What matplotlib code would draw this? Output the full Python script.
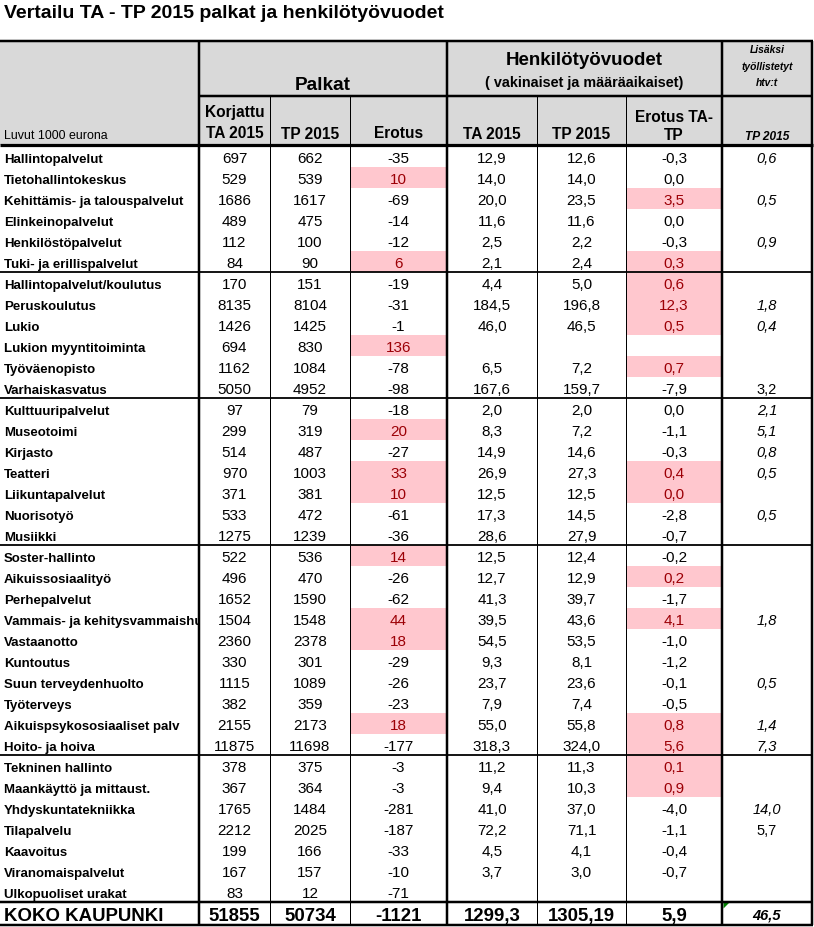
import matplotlib
matplotlib.use("Agg")
import matplotlib.pyplot as plt
from matplotlib.patches import Rectangle, Polygon
from matplotlib.transforms import Bbox

plt.rcParams['font.family'] = ['Liberation Sans', 'DejaVu Sans']

# ---------------- data ----------------
title = "Vertailu TA - TP 2015 palkat ja henkilötyövuodet"

labels = [
    "Hallintopalvelut", "Tietohallintokeskus", "Kehittämis- ja talouspalvelut",
    "Elinkeinopalvelut", "Henkilöstöpalvelut", "Tuki- ja erillispalvelut",
    "Hallintopalvelut/koulutus", "Peruskoulutus", "Lukio", "Lukion myyntitoiminta",
    "Työväenopisto", "Varhaiskasvatus",
    "Kulttuuripalvelut", "Museotoimi", "Kirjasto", "Teatteri", "Liikuntapalvelut",
    "Nuorisotyö", "Musiikki",
    "Soster-hallinto", "Aikuissosiaalityö", "Perhepalvelut",
    "Vammais- ja kehitysvammaishuolto", "Vastaanotto", "Kuntoutus",
    "Suun terveydenhuolto", "Työterveys", "Aikuispsykososiaaliset palv",
    "Hoito- ja hoiva",
    "Tekninen hallinto", "Maankäyttö ja mittaust.", "Yhdyskuntatekniikka",
    "Tilapalvelu", "Kaavoitus", "Viranomaispalvelut", "Ulkopuoliset urakat",
]

palkat_ta = [697, 529, 1686, 489, 112, 84, 170, 8135, 1426, 694, 1162, 5050,
             97, 299, 514, 970, 371, 533, 1275, 522, 496, 1652, 1504, 2360, 330,
             1115, 382, 2155, 11875, 378, 367, 1765, 2212, 199, 167, 83]
palkat_tp = [662, 539, 1617, 475, 100, 90, 151, 8104, 1425, 830, 1084, 4952,
             79, 319, 487, 1003, 381, 472, 1239, 536, 470, 1590, 1548, 2378, 301,
             1089, 359, 2173, 11698, 375, 364, 1484, 2025, 166, 157, 12]
palkat_erotus = [-35, 10, -69, -14, -12, 6, -19, -31, -1, 136, -78, -98,
                 -18, 20, -27, 33, 10, -61, -36, 14, -26, -62, 44, 18, -29,
                 -26, -23, 18, -177, -3, -3, -281, -187, -33, -10, -71]

htv_ta = [12.9, 14.0, 20.0, 11.6, 2.5, 2.1, 4.4, 184.5, 46.0, None, 6.5, 167.6,
          2.0, 8.3, 14.9, 26.9, 12.5, 17.3, 28.6, 12.5, 12.7, 41.3, 39.5, 54.5,
          9.3, 23.7, 7.9, 55.0, 318.3, 11.2, 9.4, 41.0, 72.2, 4.5, 3.7, None]
htv_tp = [12.6, 14.0, 23.5, 11.6, 2.2, 2.4, 5.0, 196.8, 46.5, None, 7.2, 159.7,
          2.0, 7.2, 14.6, 27.3, 12.5, 14.5, 27.9, 12.4, 12.9, 39.7, 43.6, 53.5,
          8.1, 23.6, 7.4, 55.8, 324.0, 11.3, 10.3, 37.0, 71.1, 4.1, 3.0, None]
htv_erotus = [-0.3, 0.0, 3.5, 0.0, -0.3, 0.3, 0.6, 12.3, 0.5, None, 0.7, -7.9,
              0.0, -1.1, -0.3, 0.4, 0.0, -2.8, -0.7, -0.2, 0.2, -1.7, 4.1, -1.0,
              -1.2, -0.1, -0.5, 0.8, 5.6, 0.1, 0.9, -4.0, -1.1, -0.4, -0.7, None]
lisaksi = [0.6, None, 0.5, None, 0.9, None, None, 1.8, 0.4, None, None, 3.2,
           2.1, 5.1, 0.8, 0.5, None, 0.5, None, None, None, None, 1.8, None,
           None, 0.5, None, 1.4, 7.3, None, None, 14.0, 5.7, None, None, None]
lisaksi_upright = [11, 32]

# highlighted (pink) cells
pink_palkat = [1, 5, 9, 13, 15, 16, 19, 22, 23, 27]
pink_htv = [2, 5, 6, 7, 8, 10, 15, 16, 20, 22, 27, 28, 29, 30]

group_ends = [6, 12, 19, 29]

total_label = "KOKO KAUPUNKI"
total_values = ["51855", "50734", "-1121", "1299,3", "1305,19", "5,9"]
total_lisaksi = "46,5"

# ---------------- layout ----------------
W, H = 814, 928
fig = plt.figure(figsize=(W / 100, H / 100), dpi=100)
ax = fig.add_axes([0, 0, 1, 1])
ax.set_xlim(0, W)
ax.set_ylim(H, 0)
ax.axis('off')

# column boundaries
xb = [0, 199, 270, 350, 447, 537, 626, 722, 812]
xc = [(xb[i] + xb[i + 1]) / 2 for i in range(len(xb) - 1)]
header_top, header_mid, header_bot = 42, 97, 145.5
row0, rh = 146.5, 21.0
n = len(labels)
total_top = row0 + n * rh
total_bot = 926

PX = 0.72  # points per pixel
PINK = '#FFC7CE'
DRED = '#9C0006'
GRAY = '#D9D9D9'

# header background
ax.add_patch(Rectangle((0, header_top), xb[-1], header_bot - header_top,
                       facecolor=GRAY, edgecolor='none', zorder=0))

# pink cells
for i in pink_palkat:
    ax.add_patch(Rectangle((xb[3], row0 + i * rh), xb[4] - xb[3], rh,
                           facecolor=PINK, edgecolor='none', zorder=0))
for i in pink_htv:
    ax.add_patch(Rectangle((xb[6], row0 + i * rh), xb[7] - xb[6], rh,
                           facecolor=PINK, edgecolor='none', zorder=0))

# title
ax.text(4, 18.5, title, fontsize=14, fontweight='bold', va='baseline', ha='left')

# header texts
hb = dict(fontweight='bold', va='baseline', ha='center')
ax.text((xb[1] + xb[4]) / 2, 90, "Palkat", fontsize=13.7, **hb)
ax.text((xb[4] + xb[7]) / 2, 65, "Henkilötyövuodet", fontsize=13.5, **hb)
ax.text((xb[4] + xb[7]) / 2, 87, "( vakinaiset ja määräaikaiset)", fontsize=10.4, **hb)
ax.text(xc[7], 53, "Lisäksi", fontsize=7.4, style='italic', **hb)
ax.text(xc[7], 69.5, "työllistetyt", fontsize=7.4, style='italic', **hb)
ax.text(xc[7], 86, "htv:t", fontsize=7.4, style='italic', **hb)

ax.text(4, 139, "Luvut 1000 eurona", fontsize=8.9, va='baseline', ha='left')
ax.text(xc[1], 117, "Korjattu", fontsize=11.2, **hb)
ax.text(xc[1], 138, "TA 2015", fontsize=11.2, **hb)
ax.text(xc[2], 139, "TP 2015", fontsize=11.2, **hb)
ax.text(xc[3], 138, "Erotus", fontsize=11.2, **hb)
ax.text(xc[4], 139, "TA 2015", fontsize=11.2, **hb)
ax.text(xc[5], 139, "TP 2015", fontsize=11.2, **hb)
ax.text(xc[6], 122, "Erotus TA-", fontsize=11.2, **hb)
ax.text(xc[6], 140, "TP", fontsize=11.2, **hb)
ax.text(xc[7], 140, "TP 2015", fontsize=8.6, style='italic', **hb)


def fmt1(v):
    return f"{v:.1f}".replace('.', ',')


# data rows
for i in range(n):
    yb = row0 + (i + 1) * rh - 4.3
    t = ax.text(4, yb, labels[i], fontsize=9.5, fontweight='bold',
                va='baseline', ha='left')
    # clip label at the first column border (pixel coordinates)
    ytop, ybot = row0 + i * rh, row0 + (i + 1) * rh
    t.set_clip_path(None)
    t.set_clip_box(Bbox.from_extents(0, H - ybot, xb[1] - 1.5, H - ytop))
    t.set_clip_on(True)
    num = dict(fontsize=11, va='baseline', ha='center')
    ax.text(xc[1], yb, str(palkat_ta[i]), **num)
    ax.text(xc[2], yb, str(palkat_tp[i]), **num)
    ax.text(xc[3], yb, str(palkat_erotus[i]),
            color=DRED if i in pink_palkat else 'black', **num)
    if htv_ta[i] is not None:
        ax.text(xc[4], yb, fmt1(htv_ta[i]), **num)
    if htv_tp[i] is not None:
        ax.text(xc[5], yb, fmt1(htv_tp[i]), **num)
    if htv_erotus[i] is not None:
        ax.text(xc[6], yb, fmt1(htv_erotus[i]),
                color=DRED if i in pink_htv else 'black', **num)
    if lisaksi[i] is not None:
        ax.text(xc[7], yb, fmt1(lisaksi[i]), fontsize=10.5,
                style='normal' if i in lisaksi_upright else 'italic',
                va='baseline', ha='center')

# total row
ytb = total_bot - 5
ax.text(4, ytb, total_label, fontsize=13.4, fontweight='bold', va='baseline', ha='left')
for j, s in enumerate(total_values):
    ax.text(xc[j + 1], ytb, s, fontsize=13.4, fontweight='bold', va='baseline', ha='center')
ax.text(xc[7], ytb - 1, total_lisaksi, fontsize=10.5, fontweight='bold', style='italic',
        va='baseline', ha='center')
ax.add_patch(Polygon([(723.5, total_top + 1), (729.5, total_top + 1), (723.5, total_top + 7)],
                     closed=True, facecolor='#008000', edgecolor='none', zorder=3))

# ---------------- grid lines ----------------
thick = 2.5 * PX
thin = 1.0 * PX
mid = 1.8 * PX

def hline(y, x0, x1, lw):
    ax.plot([x0, x1], [y, y], color='black', lw=lw, solid_capstyle='butt', zorder=4)

def vline(x, y0, y1, lw):
    ax.plot([x, x], [y0, y1], color='black', lw=lw, solid_capstyle='butt', zorder=4)

hline(header_top, 0, xb[-1] + 1.2, thick)
hline(header_mid, xb[1], xb[-1] + 1.2, thick)
hline(header_bot, 0, xb[-1] + 1.2, 3.2 * PX)
for g in group_ends:
    hline(row0 + g * rh, 0, xb[-1] + 1.2, mid)
hline(total_top, 0, xb[-1] + 1.2, thick)
hline(total_bot, 0, xb[-1] + 1.2, thick)

for x in [xb[1], xb[4], xb[7], xb[8]]:
    vline(x, header_top, total_bot, thick)
for x in [xb[2], xb[3], xb[5], xb[6]]:
    vline(x, header_mid, total_bot, thin)

fig.savefig("out.png", dpi=100)
